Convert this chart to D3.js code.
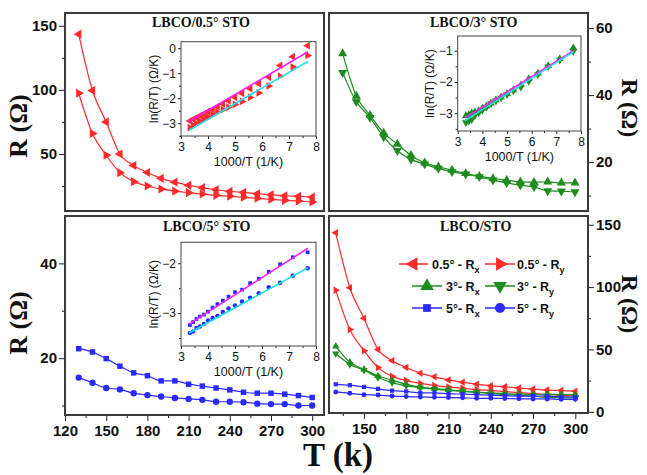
<!DOCTYPE html>
<html>
<head>
<meta charset="utf-8">
<script src="https://cdn.jsdelivr.net/npm/d3@7/dist/d3.min.js"></script>
<style>
  html, body { margin: 0; padding: 0; background: #fff; }
  svg { display: block; }
</style>
</head>
<body>
<svg id="chart" width="647" height="475"></svg>
<script>
// ---------------- DATA ----------------
const temps = [130, 140, 150, 160, 170, 180, 190, 200, 210, 220, 230, 240, 250, 260, 270, 280, 290, 300];

const r05x = [143.5, 99.5, 75, 50, 41, 35.5, 31, 28, 25.5, 23.7, 22.1, 20.8, 20, 19, 18.2, 17.4, 17, 16.4];
const r05y = [97.4, 66, 49, 35.4, 28.4, 25, 22.7, 21, 19.8, 18.8, 17.7, 17, 16.2, 15.4, 14.6, 13.8, 13.3, 12.5];
const r3x  = [52.4, 39.7, 34, 28.7, 25.4, 22, 19.8, 18.6, 17.6, 16.6, 15.8, 15.1, 14.6, 14.1, 14, 14.1, 13.8, 13.8];
const r3y  = [46.7, 38, 33.3, 27.5, 23.4, 20.8, 19.4, 18.1, 17.1, 16.4, 15.6, 14.6, 13.8, 13.1, 12.6, 11.4, 11.3, 11.1];
const r5x  = [22.0, 21.3, 19.9, 18.3, 16.9, 16.3, 15.2, 15.2, 14.5, 14.1, 13.7, 13.3, 12.8, 12.6, 12.6, 12.4, 12.1, 11.7];
const r5y  = [15.9, 14.8, 13.7, 13.4, 12.6, 12.2, 11.9, 11.6, 11.4, 11.2, 10.8, 10.8, 10.7, 10.4, 10.3, 10.3, 10.0, 10.0];

// inset: 1000/T vs ln(R/T)
const invT = [7.69, 7.14, 6.67, 6.25, 5.88, 5.56, 5.26, 5.00, 4.76, 4.55, 4.35, 4.17, 4.00, 3.85, 3.70, 3.57, 3.45, 3.33];
const ln05x = [0.10, -0.34, -0.69, -1.16, -1.42, -1.62, -1.81, -1.97, -2.11, -2.23, -2.34, -2.45, -2.53, -2.62, -2.70, -2.78, -2.84, -2.91];
const ln05y = [-0.29, -0.75, -1.12, -1.51, -1.79, -1.97, -2.13, -2.25, -2.36, -2.46, -2.56, -2.65, -2.74, -2.83, -2.92, -3.01, -3.08, -3.18];
const ln3x  = [-0.91, -1.26, -1.48, -1.72, -1.90, -2.10, -2.26, -2.38, -2.48, -2.58, -2.68, -2.77, -2.84, -2.92, -2.96, -2.99, -3.05, -3.08];
const ln3y  = [-1.02, -1.30, -1.51, -1.76, -1.98, -2.16, -2.28, -2.40, -2.51, -2.60, -2.69, -2.80, -2.90, -2.99, -3.07, -3.20, -3.25, -3.30];
const ln5x  = [-1.78, -1.88, -2.02, -2.17, -2.31, -2.40, -2.53, -2.58, -2.67, -2.75, -2.82, -2.89, -2.97, -3.03, -3.07, -3.12, -3.18, -3.24];
const ln5y  = [-2.10, -2.25, -2.39, -2.48, -2.60, -2.69, -2.77, -2.85, -2.91, -2.98, -3.06, -3.10, -3.15, -3.22, -3.27, -3.30, -3.37, -3.40];

// linear fit lines (x, y endpoints)
const fit05x = [[3.3, -2.93], [7.7, -0.14]];
const fit05y = [[3.3, -3.28], [7.7, -0.53]];
const fit3x  = [[3.3, -3.15], [7.7, -1.00]];
const fit3y  = [[3.3, -3.24], [7.7, -1.03]];
const fit5x  = [[3.3, -3.22], [7.7, -1.70]];
const fit5y  = [[3.3, -3.40], [7.7, -2.09]];

// tick labels
const tTicks = [120, 150, 180, 210, 240, 270, 300];
const tTicksMinor = [135, 165, 195, 225, 255, 285, 315];
const yTicksTL = [50, 100, 150];
const yTicksTR = [20, 40, 60];
const yTicksBL = [20, 40];
const yTicksBR = [0, 50, 100, 150];
const insetXTicks = [3, 4, 5, 6, 7, 8];
const insetYTicksTL = [-3, -2, -1, 0];
const insetYTicksTR = [-3, -2, -1];
const insetYTicksBL = [-3, -2];

const titles = ["LBCO/0.5\u00b0 STO", "LBCO/3\u00b0 STO", "LBCO/5\u00b0 STO", "LBCO/STO"];
const legendLabels = [["0.5\u00b0 - R", "x"], ["0.5\u00b0 - R", "y"], ["3\u00b0- R", "x"], ["3\u00b0 - R", "y"], ["5\u00b0- R", "x"], ["5\u00b0 - R", "y"]];

// ---------------- STYLE ----------------
const RED = "#ff2a2a", GREEN = "#1e8c1e", BLUE = "#2a2aff";
const MAG = "#ff20ff", CYAN = "#20e0e8";
const SANS = "Arial, 'Liberation Sans', sans-serif";
const SERIF = "'Times New Roman', 'Liberation Serif', serif";

const svg = d3.select("#chart");

function markerPath(kind, size) {
  const type = kind === "sq" ? d3.symbolSquare : kind === "ci" ? d3.symbolCircle : d3.symbolTriangle;
  return d3.symbol().type(type).size(size)();
}
function markerRot(kind) {
  return kind === "L" ? -90 : kind === "R" ? 90 : kind === "D" ? 180 : 0;
}

const seriesDefs = {
  r05x: { vals: r05x, ln: ln05x, color: RED, m: "L" },
  r05y: { vals: r05y, ln: ln05y, color: RED, m: "R" },
  r3x:  { vals: r3x,  ln: ln3x,  color: GREEN, m: "U" },
  r3y:  { vals: r3y,  ln: ln3y,  color: GREEN, m: "D" },
  r5x:  { vals: r5x,  ln: ln5x,  color: BLUE, m: "sq" },
  r5y:  { vals: r5y,  ln: ln5y,  color: BLUE, m: "ci" }
};

function drawSeries(g, x, y, xs, ys, color, m, size, lw) {
  const pts = xs.map((d, i) => [d, ys[i]]);
  g.append("path")
    .attr("d", d3.line().x(d => x(d[0])).y(d => y(d[1])).curve(d3.curveMonotoneX)(pts))
    .attr("fill", "none").attr("stroke", color).attr("stroke-width", lw);
  g.selectAll(null).data(pts).enter().append("path")
    .attr("d", markerPath(m, size))
    .attr("transform", d => `translate(${x(d[0])},${y(d[1])}) rotate(${markerRot(m)})`)
    .attr("fill", color);
}

function styleAxis(sel, fontSize, bold) {
  sel.select(".domain").remove();
  sel.selectAll("line").attr("stroke", "#222").attr("stroke-width", 1);
  sel.selectAll("text").attr("font-family", SANS).attr("font-size", fontSize)
    .attr("font-weight", bold ? "bold" : "normal").attr("fill", "#111");
}

function panel(cfg) {
  const g = svg.append("g");
  const x = d3.scaleLinear().domain(cfg.xd).range([cfg.x0, cfg.x1]);
  const y = d3.scaleLinear().domain(cfg.yd).range([cfg.y1, cfg.y0]);
  const yAxisMain = cfg.right ? d3.axisRight(y) : d3.axisLeft(y);
  const ax = cfg.right ? cfg.x1 : cfg.x0;
  g.append("g").attr("transform", `translate(${ax},0)`)
    .call(yAxisMain.tickValues(cfg.yTicks).tickSize(6).tickPadding(2).tickFormat(d3.format("d")))
    .call(s => styleAxis(s, 15, true));
  const yAxisMinor = cfg.right ? d3.axisRight(y) : d3.axisLeft(y);
  g.append("g").attr("transform", `translate(${ax},0)`)
    .call(yAxisMinor.tickValues(cfg.yMinor).tickSize(3).tickFormat(""))
    .call(s => styleAxis(s, 15, true));
  if (cfg.bottomAxis) {
    g.append("g").attr("transform", `translate(0,${cfg.y1})`)
      .call(d3.axisBottom(x).tickValues(tTicks.filter(t => t >= cfg.xd[0] && t <= cfg.xd[1])).tickSize(6).tickPadding(4).tickFormat(d3.format("d")))
      .call(s => styleAxis(s, 15, true));
    g.append("g").attr("transform", `translate(0,${cfg.y1})`)
      .call(d3.axisBottom(x).tickValues(tTicksMinor.filter(t => t >= cfg.xd[0] && t <= cfg.xd[1])).tickSize(3).tickFormat(""))
      .call(s => styleAxis(s, 15, true));
  }
  const plot = g.append("g");
  cfg.series.forEach(k => {
    const s = seriesDefs[k];
    drawSeries(plot, x, y, temps, s.vals, s.color, s.m, s.m === "ci" ? cfg.msize * 0.8 : s.m === "sq" ? cfg.msize * 0.75 : cfg.msize, 1.2);
  });
  g.append("rect").attr("x", cfg.x0).attr("y", cfg.y0)
    .attr("width", cfg.x1 - cfg.x0).attr("height", cfg.y1 - cfg.y0)
    .attr("fill", "none").attr("stroke", "#3a3a3a").attr("stroke-width", 2);
  g.append("text").attr("x", cfg.tx).attr("y", cfg.ty).text(cfg.title)
    .attr("font-family", SERIF).attr("font-weight", "bold").attr("font-size", 14).attr("fill", "#111");
  return g;
}

function inset(cfg) {
  const g = svg.append("g");
  const x = d3.scaleLinear().domain([3, 8]).range([cfg.x0, cfg.x1]);
  const y = d3.scaleLinear().domain(cfg.yd).range([cfg.y1, cfg.y0]);
  g.append("rect").attr("x", cfg.x0).attr("y", cfg.y0)
    .attr("width", cfg.x1 - cfg.x0).attr("height", cfg.y1 - cfg.y0)
    .attr("fill", "#fff");
  g.append("g").attr("transform", `translate(0,${cfg.y1})`)
    .call(d3.axisBottom(x).tickValues(insetXTicks).tickSize(3).tickPadding(3).tickFormat(d3.format("d")))
    .call(s => styleAxis(s, 12, false));
  g.append("g").attr("transform", `translate(0,${cfg.y1})`)
    .call(d3.axisBottom(x).tickValues([3.5, 4.5, 5.5, 6.5, 7.5]).tickSize(2).tickFormat(""))
    .call(s => styleAxis(s, 12, false));
  g.append("g").attr("transform", `translate(${cfg.x0},0)`)
    .call(d3.axisLeft(y).tickValues(cfg.yTicks).tickSize(3).tickPadding(2).tickFormat(d3.format("d")))
    .call(s => styleAxis(s, 12, false));
  g.append("g").attr("transform", `translate(${cfg.x0},0)`)
    .call(d3.axisLeft(y).tickValues(cfg.yMinor).tickSize(2).tickFormat(""))
    .call(s => styleAxis(s, 12, false));
  const plot = g.append("g");
  cfg.series.forEach(k => {
    const s = seriesDefs[k];
    const pts = invT.map((d, i) => [d, s.ln[i]]);
    const sz = s.m === "ci" ? 16 : s.m === "sq" ? 14 : 26;
    plot.selectAll(null).data(pts).enter().append("path")
      .attr("d", markerPath(s.m, sz))
      .attr("transform", d => `translate(${x(d[0])},${y(d[1])}) rotate(${markerRot(s.m)})`)
      .attr("fill", s.color);
  });
  cfg.fits.forEach(f => {
    plot.append("path").attr("d", d3.line().x(d => x(d[0])).y(d => y(d[1]))(f.pts))
      .attr("stroke", f.color).attr("stroke-width", 1.6).attr("fill", "none");
  });
  g.append("rect").attr("x", cfg.x0).attr("y", cfg.y0)
    .attr("width", cfg.x1 - cfg.x0).attr("height", cfg.y1 - cfg.y0)
    .attr("fill", "none").attr("stroke", "#444").attr("stroke-width", 1);
  g.append("text").attr("x", (cfg.x0 + cfg.x1) / 2).attr("y", cfg.y1 + 30)
    .attr("text-anchor", "middle").text("1000/T (1/K)")
    .attr("font-family", SANS).attr("font-size", 12.5).attr("fill", "#111");
  g.append("text")
    .attr("transform", `translate(${cfg.ylx},${(cfg.y0 + cfg.y1) / 2}) rotate(-90)`)
    .attr("text-anchor", "middle").text("ln(R/T) (\u03a9/K)")
    .attr("font-family", SANS).attr("font-size", 12).attr("fill", "#111");
}

// -------- panels --------
panel({ x0: 65, x1: 324, y0: 13, y1: 211, xd: [120, 308.6], yd: [5.5, 160],
  yTicks: yTicksTL, yMinor: [25, 75, 125], series: ["r05x", "r05y"], msize: 36,
  title: titles[0], tx: 152, ty: 27 });
panel({ x0: 329, x1: 588, y0: 13, y1: 211, xd: [120, 309.5], yd: [5.4, 64.5], right: true,
  yTicks: yTicksTR, yMinor: [10, 30, 50], series: ["r3x", "r3y"], msize: 36,
  title: titles[1], tx: 430, ty: 27 });
panel({ x0: 65, x1: 324, y0: 216, y1: 415, xd: [120, 308.6], yd: [8, 50], bottomAxis: true,
  yTicks: yTicksBL, yMinor: [10, 30], series: ["r5x", "r5y"], msize: 40,
  title: titles[2], tx: 163, ty: 231 });
panel({ x0: 329, x1: 588, y0: 216, y1: 413, xd: [125.2, 309], yd: [-1, 157], right: true, bottomAxis: true,
  yTicks: yTicksBR, yMinor: [25, 75, 125], series: ["r05x", "r05y", "r3x", "r3y", "r5x", "r5y"], msize: 24,
  title: titles[3], tx: 440, ty: 231 });

// -------- insets --------
inset({ x0: 181, x1: 316, y0: 41.7, y1: 136, yd: [-3.51, 0.26], yTicks: insetYTicksTL,
  yMinor: [-3.5, -2.5, -1.5, -0.5], series: ["r05x", "r05y"], ylx: 158,
  fits: [{ pts: fit05x, color: MAG }, { pts: fit05y, color: CYAN }] });
inset({ x0: 457.7, x1: 581, y0: 36, y1: 131, yd: [-3.57, -0.53], yTicks: insetYTicksTR,
  yMinor: [-3.5, -2.5, -1.5], series: ["r3x", "r3y"], ylx: 434,
  fits: [{ pts: fit3x, color: MAG }, { pts: fit3y, color: CYAN }] });
inset({ x0: 181, x1: 316, y0: 242.3, y1: 346, yd: [-3.66, -1.58], yTicks: insetYTicksBL,
  yMinor: [-3.5, -2.5], series: ["r5x", "r5y"], ylx: 158,
  fits: [{ pts: fit5x, color: MAG }, { pts: fit5y, color: CYAN }] });

// -------- legend (bottom-right) --------
const legendItems = [
  { key: "r05x", lx0: 399, lx1: 428, tx: 432, y: 264 },
  { key: "r05y", lx0: 485, lx1: 515, tx: 517, y: 264 },
  { key: "r3x",  lx0: 412, lx1: 442, tx: 446, y: 286 },
  { key: "r3y",  lx0: 485, lx1: 515, tx: 517, y: 286 },
  { key: "r5x",  lx0: 412, lx1: 442, tx: 446, y: 308 },
  { key: "r5y",  lx0: 485, lx1: 515, tx: 517, y: 308 }
];
const lg = svg.append("g");
legendItems.forEach((it, i) => {
  const s = seriesDefs[it.key];
  lg.append("line").attr("x1", it.lx0).attr("x2", it.lx1).attr("y1", it.y).attr("y2", it.y)
    .attr("stroke", s.color).attr("stroke-width", 1.5);
  const sz = s.m === "ci" ? 80 : s.m === "sq" ? 60 : 80;
  lg.append("path").attr("d", markerPath(s.m, sz))
    .attr("transform", `translate(${(it.lx0 + it.lx1) / 2},${it.y}) rotate(${markerRot(s.m)})`)
    .attr("fill", s.color);
  const t = lg.append("text").attr("x", it.tx).attr("y", it.y + 4.5)
    .attr("font-family", SANS).attr("font-weight", "bold").attr("font-size", 12.5).attr("fill", "#111");
  t.append("tspan").text(legendLabels[i][0]);
  t.append("tspan").attr("dy", 4).attr("font-size", 9).text(legendLabels[i][1]);
});

// -------- axis titles --------
function rLabel(xb, yc, rot, fs) {
  svg.append("text")
    .attr("transform", `translate(${xb},${yc}) rotate(${rot})`)
    .attr("text-anchor", "middle")
    .attr("font-family", SERIF).attr("font-weight", "bold").attr("font-size", fs).attr("fill", "#111")
    .text("R (\u03a9)");
}
rLabel(27, 126, -90, 26);
rLabel(27, 323, -90, 26);
rLabel(622, 108, 90, 24);
rLabel(622, 304, 90, 24);

svg.append("text").attr("x", 338).attr("y", 466).attr("text-anchor", "middle")
  .attr("font-family", SERIF).attr("font-weight", "bold").attr("font-size", 33).attr("fill", "#111")
  .text("T (k)");
</script>
</body>
</html>
